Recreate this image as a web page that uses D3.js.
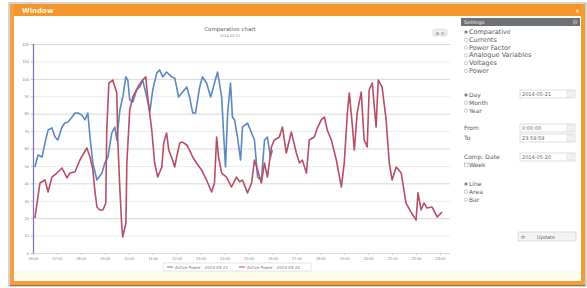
<!DOCTYPE html>
<html>
<head>
<meta charset="utf-8">
<script src="https://cdn.jsdelivr.net/npm/d3@7"></script>
<style>
  body { margin: 0; background: #fff; font-family: "DejaVu Sans", sans-serif; }
  svg { display: block; }
  text { -webkit-font-smoothing: antialiased; }
</style>
</head>
<body>
<div id="chart"></div>
<script>
// hours of the day, and readings for each day
const redTimes = [6.08,6.29,6.5,6.63,6.79,7.0,7.21,7.42,7.54,7.75,7.96,8.08,8.25,8.38,8.5,8.58,8.67,8.79,8.92,9.04,9.08,9.17,9.33,9.5,9.54,9.63,9.71,9.75,9.88,9.92,10.04,10.17,10.38,10.58,10.71,10.79,10.96,11.08,11.21,11.38,11.46,11.58,11.67,11.83,11.92,12.0,12.13,12.25,12.42,12.54,12.67,12.83,13.04,13.25,13.46,13.58,13.67,13.75,13.88,14.08,14.29,14.5,14.63,14.75,14.96,15.13,15.25,15.38,15.54,15.67,15.79,15.96,16.08,16.29,16.42,16.58,16.79,17.0,17.13,17.25,17.42,17.54,17.75,17.88,18.04,18.17,18.29,18.46,18.67,18.88,19.0,19.13,19.21,19.33,19.42,19.54,19.71,19.83,19.96,20.04,20.17,20.33,20.42,20.58,20.75,20.88,21.0,21.17,21.38,21.58,21.79,22.0,22.08,22.21,22.33,22.46,22.67,22.88,23.08];
const redValues = [20.1,40.2,41.9,35.0,43.6,45.9,48.8,43.1,45.9,46.5,53.4,56.3,60.3,55.1,47.7,36.2,26.4,24.7,24.7,28.7,70.6,97.6,99.3,91.9,64.9,36.2,14.9,9.2,17.2,51.7,82.1,89.6,95.3,99.3,101.1,89.6,70.6,51.7,43.6,49.4,63.2,68.9,59.1,53.4,49.4,55.1,63.2,63.7,62.0,59.1,55.1,51.7,47.7,41.9,35.0,40.2,66.6,55.1,45.9,43.6,37.9,43.6,40.8,41.9,34.5,40.2,53.4,47.7,40.2,51.7,43.6,60.9,64.9,66.6,72.3,57.4,69.5,57.4,51.7,53.4,45.9,64.9,66.6,71.8,76.4,78.1,70.6,64.9,53.4,37.9,51.7,80.4,91.9,74.6,59.1,80.4,92.4,64.9,60.9,93.6,97.6,72.3,99.3,95.3,76.4,51.7,41.9,49.4,45.9,28.7,23.5,18.9,34.5,24.7,28.7,25.8,26.4,20.7,23.5];

const blueTimes = [6.08,6.21,6.38,6.5,6.63,6.79,6.92,7.04,7.21,7.33,7.46,7.63,7.75,7.88,8.04,8.17,8.29,8.38,8.5,8.67,8.88,9.0,9.13,9.29,9.42,9.5,9.63,9.75,9.88,9.96,10.04,10.17,10.33,10.46,10.58,10.75,10.88,11.0,11.17,11.29,11.42,11.58,11.79,11.92,12.08,12.25,12.42,12.54,12.67,12.79,12.96,13.08,13.25,13.42,13.58,13.71,13.88,13.96,14.04,14.13,14.25,14.33,14.42,14.54,14.67,14.75,14.96,15.13,15.25,15.38,15.54,15.67,15.79,15.92,16.0];
const blueValues = [49.4,56.3,55.1,63.2,70.6,71.8,66.6,64.9,72.3,74.6,75.2,78.1,80.4,80.4,79.2,76.4,80.4,66.6,51.7,41.9,45.9,51.7,55.1,68.9,72.3,64.9,82.1,89.6,101.1,99.3,87.9,86.7,93.6,95.3,99.3,89.6,81.0,93.6,103.4,105.1,101.1,103.9,101.1,100.5,89.6,92.4,95.3,89.6,80.4,80.4,95.3,101.1,97.6,89.6,97.6,103.9,89.6,68.9,49.4,80.4,97.6,78.1,76.4,66.6,53.4,72.3,74.6,68.9,64.9,43.6,41.9,64.9,66.6,55.1,59.1];

const yTicks = [0,10,20,30,40,50,60,70,80,90,100,110,120];
const xTicks = [6,7,8,9,10,11,12,13,14,15,16,17,18,19,20,21,22,23];
const legendLabels = ['Active Power - 2014-05-21', 'Active Power - 2014-05-20'];
const variableOptions = ['Comparative', 'Currents', 'Power Factor', 'Analogue Variables', 'Voltages', 'Power'];
const periodOptions = ['Day', 'Month', 'Year'];
const chartTypes = ['Line', 'Area', 'Bar'];

const W = 587, H = 288;
const svg = d3.select('#chart').append('svg').attr('width', W).attr('height', H);

// window frame
svg.append('rect').attr('x', 9).attr('y', 3).attr('width', 577).attr('height', 283).attr('fill', '#fff').attr('stroke', '#a9a9a9').attr('stroke-width', 1);
svg.append('rect').attr('x', 10).attr('y', 4).attr('width', 575).attr('height', 12).attr('fill', '#f5962a');
svg.append('rect').attr('x', 10).attr('y', 4).attr('width', 4).attr('height', 281).attr('fill', '#f5a040');
svg.append('rect').attr('x', 581).attr('y', 4).attr('width', 4).attr('height', 281).attr('fill', '#f39b35');
svg.append('rect').attr('x', 10).attr('y', 281).attr('width', 575).attr('height', 4).attr('fill', '#f5a040');
svg.append('line').attr('x1', 10).attr('x2', 585).attr('y1', 285.5).attr('y2', 285.5).attr('stroke', '#a07040');
svg.append('text').attr('x', 22).attr('y', 13).attr('font-size', 7).attr('fill', '#fff3e0').attr('font-weight', 'bold').text('Window');
svg.append('text').attr('x', 580).attr('y', 13).attr('font-size', 6).attr('fill', '#fff').attr('text-anchor', 'end').text('×');

// cream strip at the bottom of the content
svg.append('rect').attr('x', 14).attr('y', 271).attr('width', 567).attr('height', 10).attr('fill', '#fdfbe9');

// chart
const x = d3.scaleLinear().domain([6, 23.25]).range([33, 446]);
const y = d3.scaleLinear().domain([0, 120]).range([253, 44]);

const grid = svg.append('g');
grid.selectAll('line').data(yTicks).enter().append('line')
  .attr('x1', 33).attr('x2', 450)
  .attr('y1', d => y(d) + 0.5).attr('y2', d => y(d) + 0.5)
  .attr('stroke', (d, i) => i % 2 ? '#ececec' : '#d8d8d8').attr('stroke-width', 1);

const yAxis = svg.append('g').attr('transform', 'translate(33,0)')
  .call(d3.axisLeft(y).tickValues(yTicks).tickSize(2).tickPadding(2));
yAxis.select('.domain').attr('stroke', '#7a70b8').attr('stroke-width', 1.2);
yAxis.selectAll('.tick line').attr('stroke', '#bbb');
yAxis.selectAll('text').attr('font-size', 4).attr('fill', '#888');

const xAxis = svg.append('g').attr('transform', 'translate(0,253)')
  .call(d3.axisBottom(x).tickValues(xTicks).tickSize(2).tickPadding(2)
    .tickFormat(d => String(d).padStart(2, '0') + ':00'));
xAxis.select('.domain').attr('stroke', '#ddd');
xAxis.selectAll('.tick line').attr('stroke', '#ccc');
xAxis.selectAll('text').attr('font-size', 4).attr('fill', '#888');

const line = d3.line().x(d => x(d[0])).y(d => y(d[1]));
const redData = d3.zip(redTimes, redValues);
const blueData = d3.zip(blueTimes, blueValues);

svg.append('path').datum(blueData).attr('d', line)
  .attr('fill', 'none').attr('stroke', '#5a88bf').attr('stroke-width', 1.6).attr('stroke-linejoin', 'round');
svg.append('path').datum(redData).attr('d', line)
  .attr('fill', 'none').attr('stroke', '#b84d66').attr('stroke-width', 1.6).attr('stroke-linejoin', 'round');

// title
svg.append('text').attr('x', 230).attr('y', 31).attr('text-anchor', 'middle').attr('font-size', 5.5).attr('fill', '#666').text('Comparative chart');
svg.append('text').attr('x', 230).attr('y', 37).attr('text-anchor', 'middle').attr('font-size', 3.5).attr('fill', '#888').text('2014-05-21');
svg.append('rect').attr('x', 433).attr('y', 29).attr('width', 14).attr('height', 7).attr('rx', 1.5).attr('fill', '#eee').attr('stroke', '#ccc').attr('stroke-width', 0.5);
svg.append('text').attr('x', 440).attr('y', 34.5).attr('text-anchor', 'middle').attr('font-size', 4.5).attr('fill', '#777').text('⊕ ⊖');

// legend
const legend = svg.append('g');
legend.append('rect').attr('x', 163).attr('y', 263).attr('width', 148).attr('height', 8).attr('fill', '#fff').attr('stroke', '#ccc').attr('stroke-width', 0.5);
const legendColors = ['#5a88bf', '#b84d66'];
legendLabels.forEach((t, i) => {
  const lx = 167 + i * 72;
  legend.append('line').attr('x1', lx).attr('x2', lx + 6).attr('y1', 267).attr('y2', 267).attr('stroke', legendColors[i]).attr('stroke-width', 1);
  legend.append('text').attr('x', lx + 8).attr('y', 268.5).attr('font-size', 4).attr('fill', '#777').text(t);
});

// settings panel
const px = 461;
svg.append('rect').attr('x', px).attr('y', 18).attr('width', 119).attr('height', 8).attr('fill', '#6d7177');
svg.append('text').attr('x', px + 3).attr('y', 24).attr('font-size', 5).attr('fill', '#eee').text('Settings');
svg.append('circle').attr('cx', 575).attr('cy', 22).attr('r', 2.5).attr('fill', '#999');

function radio(cx, cy, on) {
  svg.append('circle').attr('cx', cx).attr('cy', cy).attr('r', 1.7).attr('fill', '#fff').attr('stroke', '#999').attr('stroke-width', 0.5);
  if (on) svg.append('circle').attr('cx', cx).attr('cy', cy).attr('r', 1).attr('fill', '#555');
}
function label(tx, ty, t, size) {
  svg.append('text').attr('x', tx).attr('y', ty).attr('font-size', size || 6.5).attr('fill', '#5a5a5a').text(t);
}
function input(ix, iy, t) {
  svg.append('rect').attr('x', ix).attr('y', iy).attr('width', 55).attr('height', 8).attr('fill', '#fff').attr('stroke', '#bbb').attr('stroke-width', 0.5);
  svg.append('text').attr('x', ix + 2).attr('y', iy + 6).attr('font-size', 5).attr('fill', '#666').text(t);
  svg.append('rect').attr('x', ix + 47).attr('y', iy + 1).attr('width', 6).attr('height', 6).attr('fill', '#f2f2f2').attr('stroke', '#ccc').attr('stroke-width', 0.4);
}

variableOptions.forEach((t, i) => {
  const ry = 34 + i * 7.8;
  radio(466, ry - 2, i === 0);
  label(469, ry, t);
});
periodOptions.forEach((t, i) => {
  const ry = 97 + i * 7.8;
  radio(466, ry - 2, i === 0);
  label(469, ry, t, 6);
});
input(520, 90, '2014-05-21');
label(464, 130, 'From', 6);
input(520, 124, '0:00:00');
label(464, 140, 'To', 6);
input(520, 134, '23:59:59');
label(464, 159, 'Comp. Date', 6);
input(520, 153, '2014-05-20');
svg.append('rect').attr('x', 464.5).attr('y', 163).attr('width', 3.5).attr('height', 3.5).attr('fill', '#fff').attr('stroke', '#999').attr('stroke-width', 0.5);
label(469, 167, 'Week', 6);
chartTypes.forEach((t, i) => {
  const ry = 186 + i * 7.8;
  radio(466, ry - 2, i === 0);
  label(469, ry, t, 6);
});
svg.append('rect').attr('x', 518).attr('y', 232).attr('width', 58).attr('height', 9).attr('fill', '#f4f4f4').attr('stroke', '#bbb').attr('stroke-width', 0.5);
label(521, 239, '⟳', 5);
label(537, 239, 'Update', 5);
</script>
</body>
</html>
